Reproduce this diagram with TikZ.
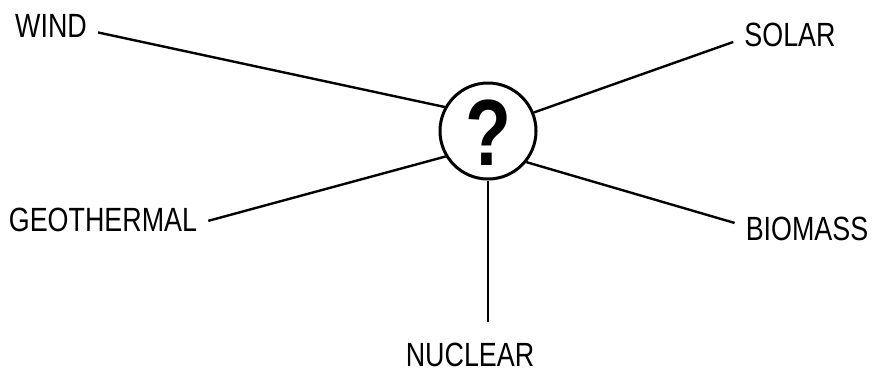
\documentclass[tikz,border=0pt]{standalone}
\usepackage{fontspec}
\newfontfamily\plotfont[FakeStretch=0.8]{Liberation Sans}

\begin{document}
\begin{tikzpicture}[x=0.5pt, y=-0.5pt, line width=1.2pt,
  energy/.style={font=\plotfont\fontsize{16.8}{18}\selectfont, inner sep=5pt, text height=12pt, text depth=0pt}]
  \useasboundingbox (0,0) rectangle (876,370);
  \node[circle, draw, line width=1.5pt, minimum size=48pt, inner sep=0pt, text height=34pt, text depth=0pt,
    font=\plotfont\bfseries\fontsize{47}{47}\selectfont] (hub) at (488,131) {?};
  \node[energy] (wind) at (51,25) {WIND};
  \node[energy] (solar) at (790,34) {SOLAR};
  \node[energy] (geo) at (103,219) {GEOTHERMAL};
  \node[energy] (bio) at (807,228) {BIOMASS};
  \node[energy, inner sep=1pt] (nuc) at (470,354) {NUCLEAR};
  \draw (hub.151) -- (wind.-9);
  \draw (hub.22) -- (solar.188);
  \draw (hub.211) -- (geo.-1);
  \draw (hub.321) -- (bio.176);
  \draw[shorten >=8.5pt] (hub.south) -- (hub.south |- nuc.north);
\end{tikzpicture}
\end{document}
